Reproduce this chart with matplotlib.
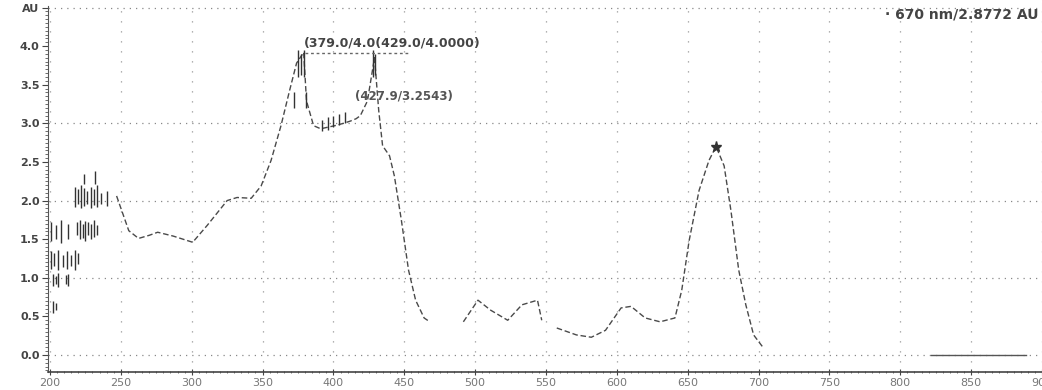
import matplotlib
matplotlib.use('Agg')
import matplotlib.pyplot as plt
from matplotlib.ticker import MultipleLocator

# Spettro principale (nm / AU)
seg1_nm = [247, 255.6, 262.5, 270, 276, 287, 300.7, 311, 325, 332, 342, 349, 356, 363, 369, 374, 379,
           381, 386, 391, 396, 401, 407, 412, 416, 419, 424, 429, 432, 434.7, 439.6, 443, 448, 453, 458, 464, 468]
seg1_au = [2.06, 1.61, 1.51, 1.55, 1.59, 1.54, 1.46, 1.68, 2.0, 2.04, 2.03, 2.19, 2.52, 2.97, 3.42, 3.78, 3.92,
           3.29, 2.97, 2.93, 2.95, 2.97, 3.0, 3.03, 3.06, 3.1, 3.29, 3.85, 3.16, 2.71, 2.58, 2.32, 1.74, 1.10, 0.71, 0.48, 0.43]
seg2_nm = [491.7, 502, 511, 523, 533, 544, 547]
seg2_au = [0.43, 0.71, 0.58, 0.45, 0.65, 0.71, 0.45]
seg3_nm = [557.6, 571.5, 582, 592, 603, 610, 620, 630.5, 641, 645.8, 651, 658, 665, 670, 675.7, 680.5, 686, 691, 696.5, 703.5]
seg3_au = [0.35, 0.26, 0.23, 0.32, 0.61, 0.63, 0.48, 0.43, 0.48, 0.84, 1.48, 2.13, 2.52, 2.70, 2.45, 1.87, 1.10, 0.65, 0.26, 0.09]
tail_nm = [821.5, 889]
tail_au = [0.0, 0.0]

# Rumore a barre verticali nella zona UV e sui picchi saturi
noise_nm = [218, 220, 222, 224, 226, 229, 231, 233, 236, 240,
            201, 204, 208, 213, 219, 221, 223, 225, 227, 229, 231, 233,
            201, 203, 206, 209, 212, 215, 218, 220,
            202, 204, 206, 211, 213, 202, 204, 224, 232,
            375, 377, 379, 428, 429, 372, 381, 392, 396, 400, 404, 408]
noise_lo = [1.92, 1.95, 1.9, 1.93, 1.95, 1.9, 1.94, 1.92, 1.95, 1.93,
            1.48, 1.5, 1.45, 1.5, 1.55, 1.5, 1.52, 1.48, 1.55, 1.5, 1.53, 1.55,
            1.12, 1.15, 1.1, 1.14, 1.12, 1.15, 1.1, 1.18,
            0.9, 0.92, 0.88, 0.92, 0.9, 0.55, 0.58, 2.22, 2.22,
            3.6, 3.62, 3.6, 3.6, 3.62, 3.2, 3.2, 2.9, 2.92, 2.95, 2.98, 3.0]
noise_hi = [2.18, 2.15, 2.2, 2.16, 2.12, 2.18, 2.15, 2.2, 2.1, 2.12,
            1.72, 1.68, 1.75, 1.7, 1.72, 1.75, 1.7, 1.74, 1.72, 1.7, 1.75, 1.68,
            1.35, 1.32, 1.36, 1.3, 1.35, 1.3, 1.36, 1.32,
            1.05, 1.02, 1.06, 1.04, 1.05, 0.7, 0.68, 2.35, 2.38,
            3.95, 3.9, 3.95, 3.95, 3.9, 3.4, 3.4, 3.05, 3.08, 3.1, 3.12, 3.15]

peak_nm, peak_au = 670, 2.70
yticks = [0, 0.5, 1.0, 1.5, 2.0, 2.5, 3.0, 3.5, 4.0, 4.5]
ylabels = ['0.0', '0.5', '1.0', '1.5', '2.0', '2.5', '3.0', '3.5', '4.0', 'AU']
xticks = list(range(200, 901, 50))

fig = plt.figure(figsize=(10.42, 3.9), dpi=100)
ax = fig.add_axes([48 / 1042, 1 - 372 / 390, 1 - 48 / 1042, 366 / 390])

ax.set_xlim(198.6, 889)
ax.set_ylim(-0.22, 4.52)

# Griglia a puntini
for x in xticks:
    ax.axvline(x, color='#999999', lw=0.9, linestyle=(0, (1, 7)), zorder=0)
for y in [0, 1, 2, 3, 4.5]:
    ax.axhline(y, color='#888888', lw=0.9, linestyle=(0, (1, 4)), zorder=0)

dash = (0, (4, 2))
for xs, ys in [(seg1_nm, seg1_au), (seg2_nm, seg2_au), (seg3_nm, seg3_au)]:
    ax.plot(xs, ys, color='#4a4a4a', lw=1.0, linestyle=dash)
ax.plot(tail_nm, tail_au, color='#555555', lw=1.0)
ax.vlines(noise_nm, noise_lo, noise_hi, color='#333333', lw=1.0)
ax.plot(peak_nm, peak_au, marker='*', color='#333333', markersize=8)

# Etichette dei picchi (nel riferimento sono sovrapposte)
ax.text(379, 4.04, '(379.0/4.0(429.0/4.0000)', fontsize=9, fontweight='bold', color='#444444', va='center')
ax.plot([380, 453], [3.91, 3.91], color='#666666', lw=1, linestyle=(0, (2, 2)))
ax.text(415, 3.35, '(427.9/3.2543)', fontsize=8.5, fontweight='bold', color='#555555', va='center')
fig.text(885 / 1042, 1 - 14 / 390, '\u00b7 670 nm/2.8772 AU', fontsize=10, fontweight='bold',
         color='#444444', va='center')

ax.set_yticks(yticks)
ax.set_yticklabels(ylabels, fontsize=8, fontweight='bold', color='#444444')
ax.yaxis.set_minor_locator(MultipleLocator(0.05))
ax.set_xticks(xticks)
ax.set_xticklabels([str(x) for x in xticks], fontsize=8, color='#777777')
ax.xaxis.set_minor_locator(MultipleLocator(5))
ax.tick_params(axis='y', which='major', length=4, width=0.8, color='#444444', pad=2)
ax.tick_params(axis='y', which='minor', length=2, width=0.6, color='#555555')
ax.tick_params(axis='x', which='major', length=4, width=0.8, color='#444444', pad=2, direction='inout')
ax.tick_params(axis='x', which='minor', length=2, width=0.6, color='#555555', direction='inout')

for s in ['top', 'right']:
    ax.spines[s].set_visible(False)
ax.spines['left'].set_color('#555555')
ax.spines['bottom'].set_color('#444444')
ax.spines['left'].set_linewidth(0.8)
ax.spines['bottom'].set_linewidth(1.2)

fig.savefig('out.png', dpi=100)
